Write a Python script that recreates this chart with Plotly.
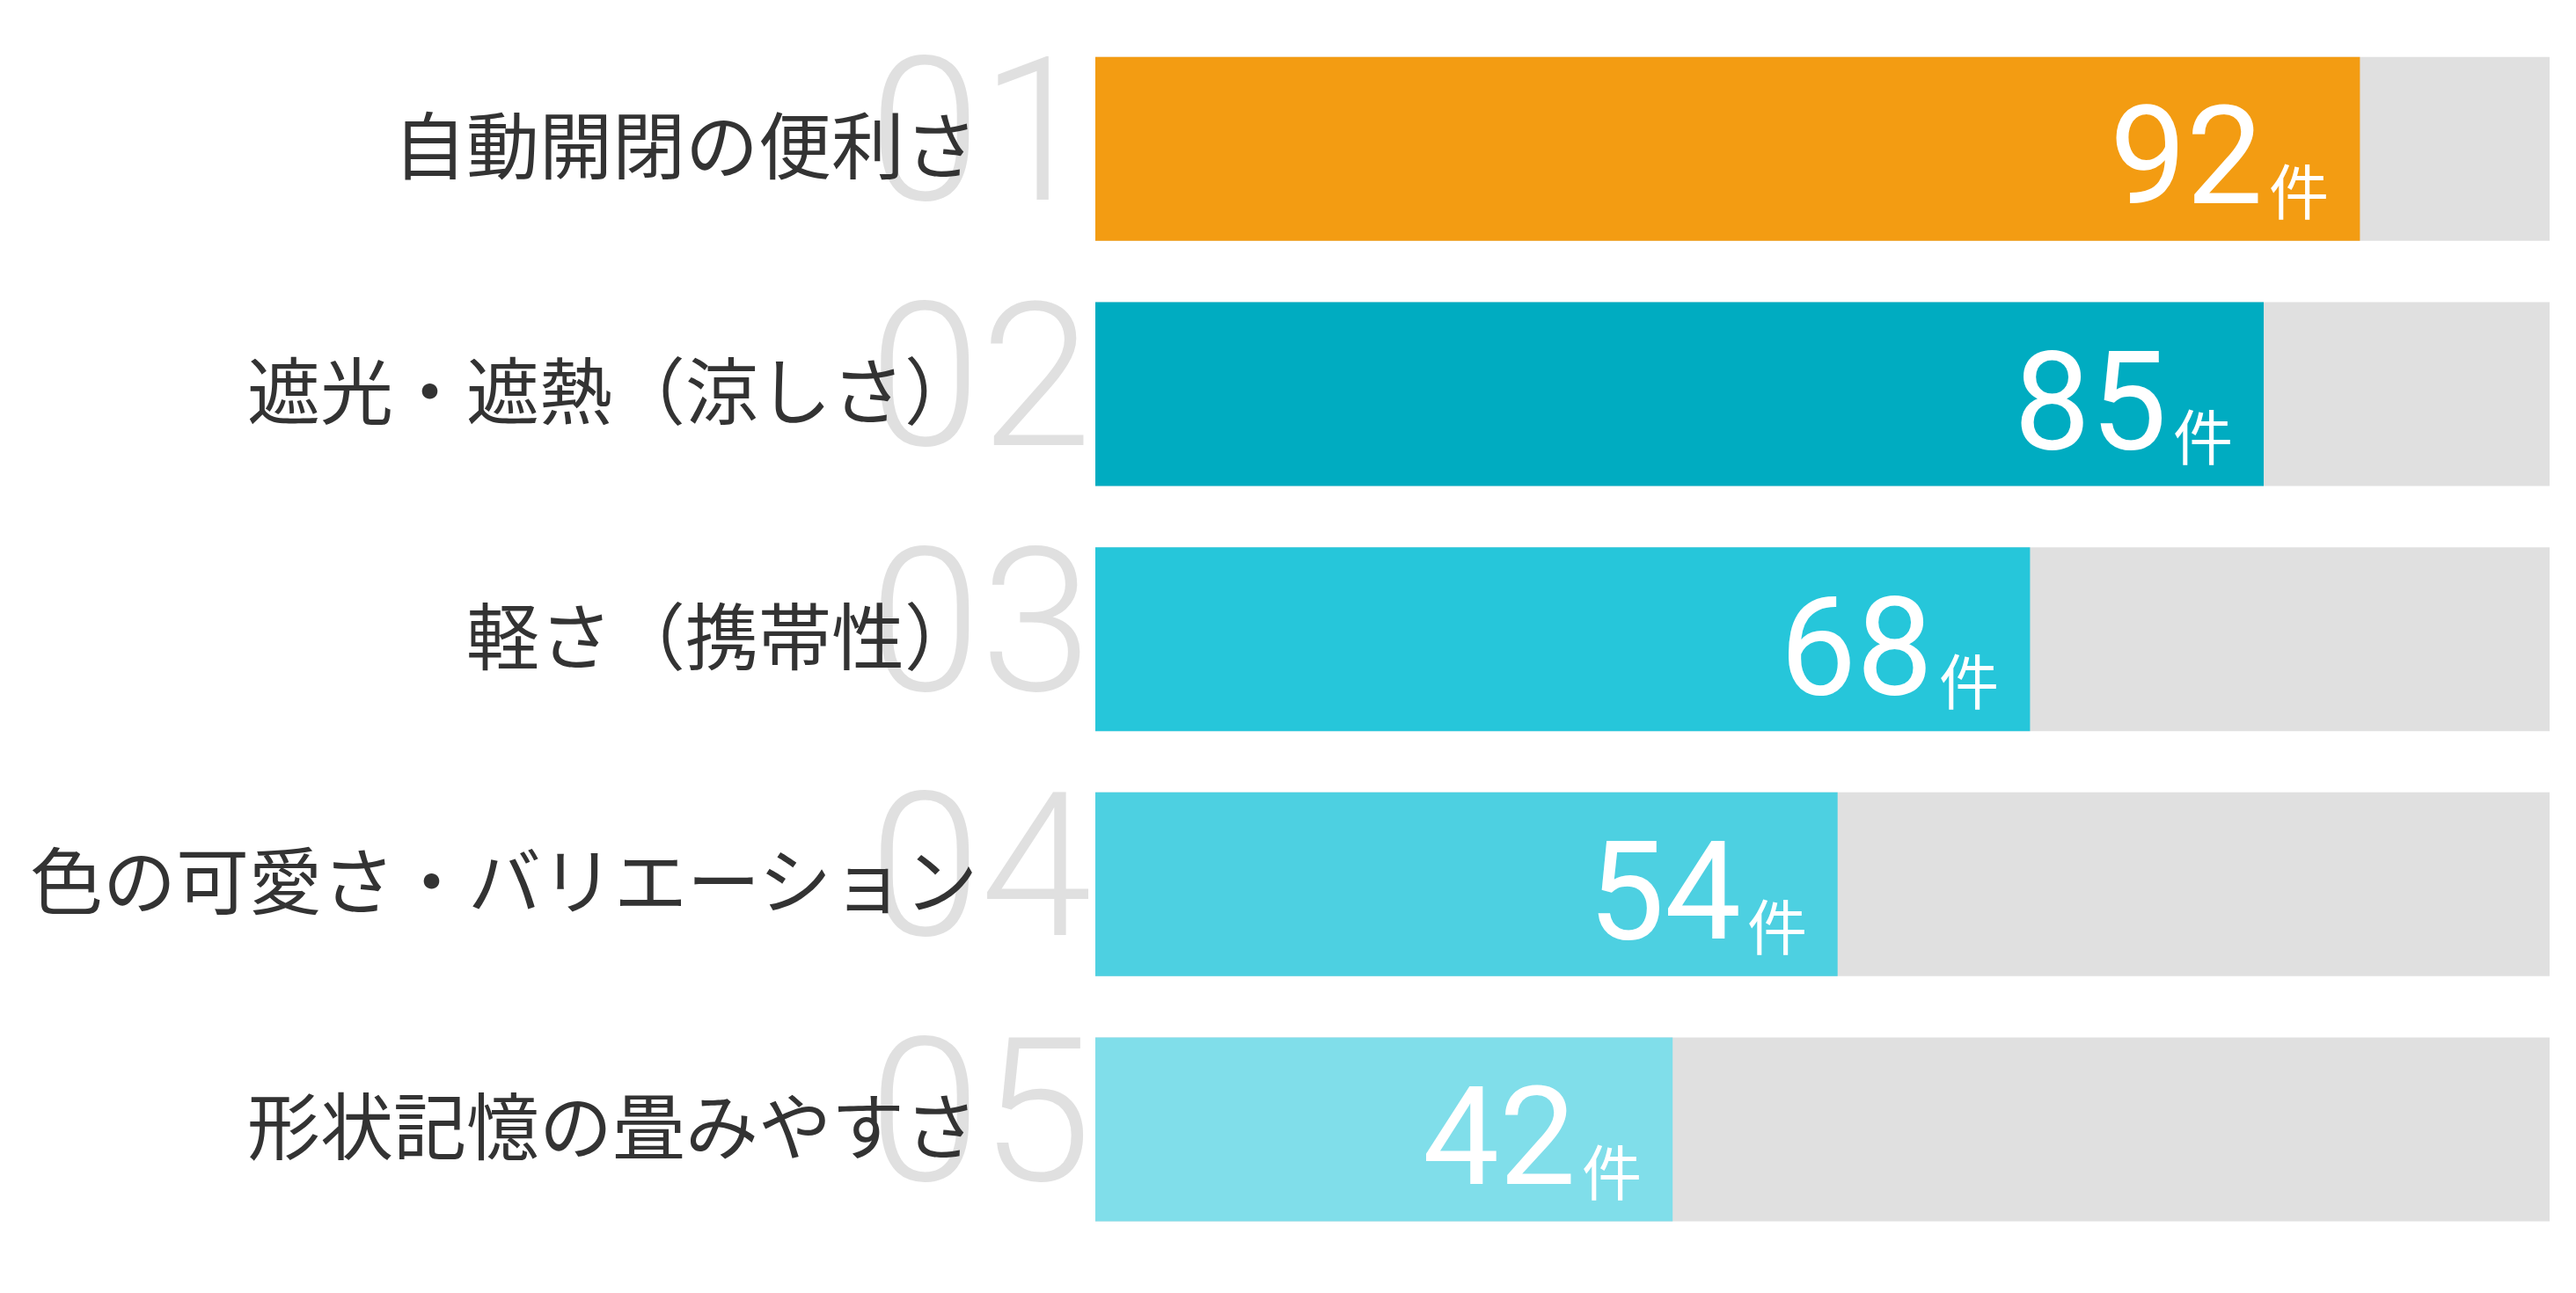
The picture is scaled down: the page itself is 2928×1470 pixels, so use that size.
import plotly.graph_objects as go

# 項目と件数
labels = ["自動開閉の便利さ", "遮光・遮熱（涼しさ）", "軽さ（携帯性）",
          "色の可愛さ・バリエーション", "形状記憶の畳みやすさ"]
ranks = ["01", "02", "03", "04", "05"]
counts = [92, 85, 68, 54, 42]
unit = "件"
colors = ["#F39C12", "#00ACC1", "#26C6DA", "#4DD0E1", "#80DEEA"]

# 背景バーの長さ (最大値の1.15倍)
track = max(counts) * 1.15
tracks = [track] * len(counts)

fig = go.Figure()

# グレーの背景バー
fig.add_trace(go.Bar(y=labels,
                     x=tracks,
                     orientation='h',
                     marker=dict(color='#E0E0E0', line=dict(width=0)),
                     hoverinfo='skip',
                     ))

# 件数バー
fig.add_trace(go.Bar(y=labels,
                     x=counts,
                     orientation='h',
                     marker=dict(color=colors, line=dict(width=0)),
                     hoverinfo='skip',
                     ))

annotations = []

# 大きな順位番号（薄いグレー）
for lab, r in zip(labels, ranks):
    annotations.append(dict(xref='paper', yref='y', x=0, y=lab,
                            text=r, showarrow=False,
                            xanchor='left', yanchor='middle',
                            xshift=-259, yshift=20,
                            font=dict(family='Roboto', size=228,
                                      color='#E0E0E0', weight=300)))

# 項目名
for lab in labels:
    annotations.append(dict(xref='paper', yref='y', x=0, y=lab,
                            text=lab, showarrow=False,
                            xanchor='right', yanchor='middle',
                            xshift=-132, yshift=8,
                            font=dict(family='Noto Sans CJK JP', size=83,
                                      color='#333333')))

# 件数ラベル（数字と「件」）
for lab, c in zip(labels, counts):
    annotations.append(dict(xref='x', yref='y', x=c, y=lab,
                            text=str(c), showarrow=False,
                            xanchor='right', yanchor='middle',
                            xshift=-108, yshift=-9,
                            font=dict(family='Roboto', size=155,
                                      color='#FFFFFF')))
    annotations.append(dict(xref='x', yref='y', x=c, y=lab,
                            text=unit, showarrow=False,
                            xanchor='right', yanchor='middle',
                            xshift=-33, yshift=-45,
                            font=dict(family='Noto Sans CJK JP', size=68,
                                      color='#FFFFFF')))

# ページ余白(8px)込みで 2928x1470 に収める
fig.update_layout(width=2912,
                  height=1454,
                  margin=dict(l=1237, r=22, t=22, b=22),
                  barmode='overlay',
                  bargap=0.25,
                  showlegend=False,
                  plot_bgcolor='white',
                  paper_bgcolor='white',
                  annotations=annotations,
                  )

fig.update_xaxes(range=[0, track], visible=False, fixedrange=True)
fig.update_yaxes(autorange='reversed', visible=False, fixedrange=True)

fig.write_html("out.html")
